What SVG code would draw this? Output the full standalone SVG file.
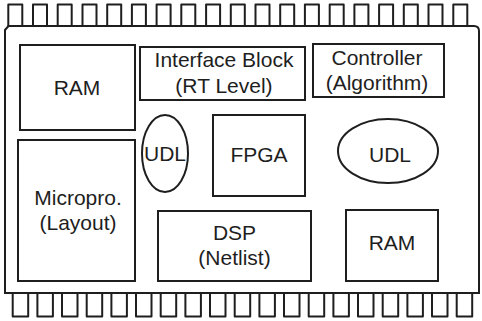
<svg xmlns="http://www.w3.org/2000/svg" width="482" height="321" viewBox="0 0 482 321">
<style>
.s{fill:none;stroke:#1e1e1e;stroke-width:2;stroke-linejoin:round}
.b{fill:#fff;stroke:#1e1e1e;stroke-width:2}
.t{font-family:"Liberation Sans",Arial,sans-serif;font-size:21px;fill:#1e1e1e;text-anchor:middle}
</style>
<defs>
<path id="pt" d="M0,26 V4.5 H14 V26" class="s"/>
<path id="pb" d="M0,293 V316.5 H15.5 V293" class="s"/>
</defs>
<rect width="482" height="321" fill="#fff"/>
<g id="pins-top">
<use href="#pt" x="8.3"/><use href="#pt" x="33"/><use href="#pt" x="57.7"/><use href="#pt" x="82.5"/><use href="#pt" x="107.2"/><use href="#pt" x="131.9"/><use href="#pt" x="156.6"/><use href="#pt" x="181.3"/><use href="#pt" x="206.1"/><use href="#pt" x="230.8"/><use href="#pt" x="255.5"/><use href="#pt" x="280.2"/><use href="#pt" x="304.9"/><use href="#pt" x="329.7"/><use href="#pt" x="354.4"/><use href="#pt" x="379.1"/><use href="#pt" x="403.8"/><use href="#pt" x="428.5"/><use href="#pt" x="453.3"/>
</g>
<g id="pins-bottom">
<use href="#pb" x="12.7"/><use href="#pb" x="37.4"/><use href="#pb" x="62"/><use href="#pb" x="86.7"/><use href="#pb" x="111.4"/><use href="#pb" x="136"/><use href="#pb" x="160.7"/><use href="#pb" x="185.4"/><use href="#pb" x="210"/><use href="#pb" x="234.7"/><use href="#pb" x="259.4"/><use href="#pb" x="284"/><use href="#pb" x="308.7"/><use href="#pb" x="333.4"/><use href="#pb" x="358"/><use href="#pb" x="382.7"/><use href="#pb" x="407.4"/><use href="#pb" x="432"/><use href="#pb" x="456.7"/>
</g>
<g id="chip">
<path d="M5,293 V30 L8.5,26 H474 Q479,26 479,31 V293 Z" class="b"/>
</g>
<g id="connectors"></g>
<g id="ram1">
<rect x="20" y="45" width="115" height="85" class="b"/>
<text x="77" y="95" class="t">RAM</text>
</g>
<g id="interface">
<rect x="140" y="47" width="165" height="53" class="b"/>
<text x="224" y="67" class="t">Interface Block</text>
<text x="224" y="92.5" class="t">(RT Level)</text>
</g>
<g id="controller">
<rect x="313" y="44" width="131" height="53" class="b"/>
<text x="377" y="65" class="t">Controller</text>
<text x="377" y="90" class="t">(Algorithm)</text>
</g>
<g id="udl1">
<ellipse cx="165" cy="153.5" rx="23" ry="38.5" class="b"/>
<text x="165" y="160.5" class="t">UDL</text>
</g>
<g id="fpga">
<rect x="213" y="115" width="92" height="81" class="b"/>
<text x="259" y="162" class="t">FPGA</text>
</g>
<g id="udl2">
<ellipse cx="388" cy="151" rx="50" ry="32" class="b"/>
<text x="390" y="162" class="t">UDL</text>
</g>
<g id="micropro">
<rect x="18" y="140" width="117" height="141" class="b"/>
<text x="78" y="205" class="t">Micropro.</text>
<text x="78" y="230" class="t">(Layout)</text>
</g>
<g id="dsp">
<rect x="158" y="211" width="153" height="70" class="b"/>
<text x="234.5" y="240" class="t">DSP</text>
<text x="234.5" y="265" class="t">(Netlist)</text>
</g>
<g id="ram2">
<rect x="346" y="210" width="92" height="71" class="b"/>
<text x="392" y="250" class="t">RAM</text>
</g>
</svg>
